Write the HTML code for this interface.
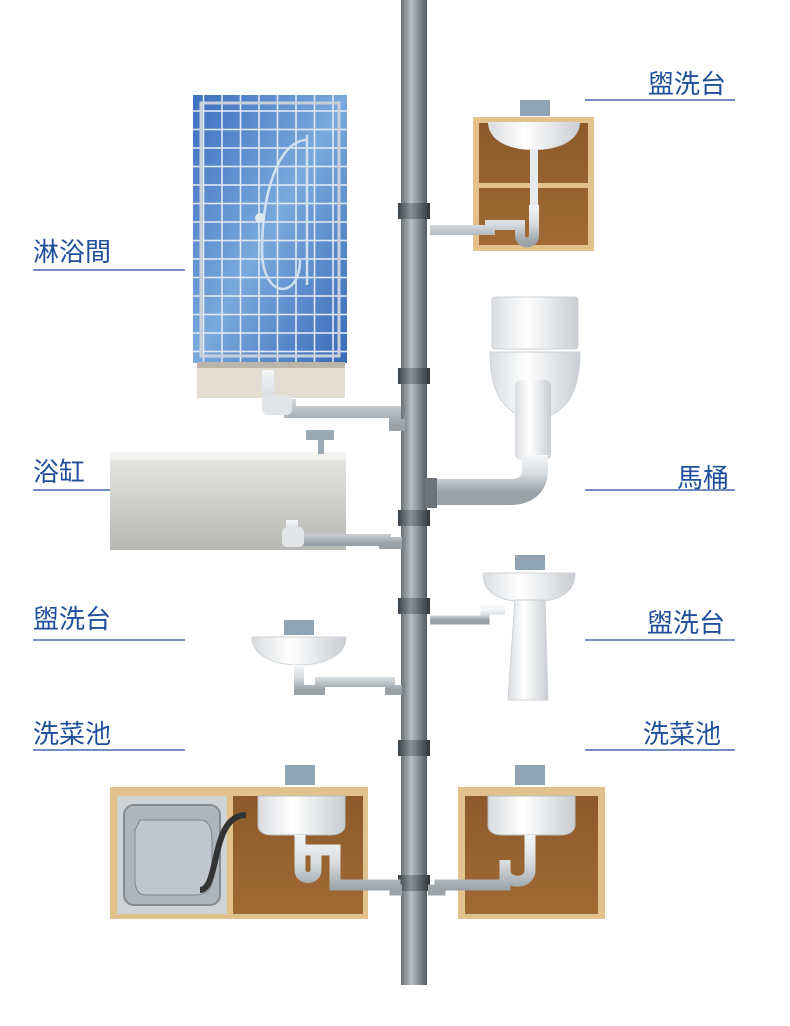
<!DOCTYPE html>
<html><head><meta charset="utf-8"><style>
html,body{margin:0;padding:0;background:#fff;}
svg{display:block}
text{font-family:"Liberation Sans","Noto Sans CJK TC",sans-serif;fill:#1f4f9a;font-size:26px;}
</style></head><body>
<svg width="790" height="1026" viewBox="0 0 790 1026" xmlns="http://www.w3.org/2000/svg">
<defs>
<linearGradient id="pipe" x1="0" x2="1"><stop offset="0" stop-color="#6a7078"/><stop offset="0.4" stop-color="#b8bec4"/><stop offset="1" stop-color="#555b62"/></linearGradient>
<linearGradient id="ring" x1="0" x2="1"><stop offset="0" stop-color="#3c4249"/><stop offset="0.4" stop-color="#8a9098"/><stop offset="1" stop-color="#2e343a"/></linearGradient>
<linearGradient id="hp" x1="0" y1="0" x2="0" y2="1"><stop offset="0" stop-color="#f4f6f7"/><stop offset="0.5" stop-color="#d8dde0"/><stop offset="1" stop-color="#9aa2a8"/></linearGradient>
<linearGradient id="tile" x1="0" y1="0" x2="1" y2="1"><stop offset="0" stop-color="#3d6fc0"/><stop offset="0.5" stop-color="#7aa9dc"/><stop offset="1" stop-color="#3a69b8"/></linearGradient>
<linearGradient id="tub" x1="0" y1="0" x2="0" y2="1"><stop offset="0" stop-color="#e8e8e6"/><stop offset="0.5" stop-color="#cfcfcc"/><stop offset="1" stop-color="#b8b8b4"/></linearGradient>
<linearGradient id="wood" x1="0" y1="0" x2="0" y2="1"><stop offset="0" stop-color="#8c5a2a"/><stop offset="1" stop-color="#a06a34"/></linearGradient>
<linearGradient id="porc" x1="0" x2="1"><stop offset="0" stop-color="#d9dcdf"/><stop offset="0.4" stop-color="#ffffff"/><stop offset="1" stop-color="#c9cdd1"/></linearGradient>
<pattern id="grid" width="18.5" height="18.5" patternUnits="userSpaceOnUse"><rect width="18.5" height="18.5" fill="none" stroke="#dfe8f5" stroke-width="1.6"/></pattern>
</defs>

<!-- central pipe -->
<rect x="401" y="0" width="26" height="985" fill="url(#pipe)"/>
<g fill="url(#ring)">
<rect x="398" y="203" width="32" height="16"/>
<rect x="398" y="368" width="32" height="16"/>
<rect x="398" y="510" width="32" height="16"/>
<rect x="398" y="598" width="32" height="16"/>
<rect x="398" y="740" width="32" height="16"/>
<rect x="398" y="875" width="32" height="16"/>
</g>

<!-- labels -->
<g stroke="#1f4f9a" stroke-width="1.2">
<line x1="33" y1="270" x2="185" y2="270"/>
<line x1="585" y1="100" x2="735" y2="100"/>
<line x1="33" y1="490" x2="185" y2="490"/>
<line x1="585" y1="490" x2="735" y2="490"/>
<line x1="33" y1="640" x2="185" y2="640"/>
<line x1="585" y1="640" x2="735" y2="640"/>
<line x1="33" y1="750" x2="185" y2="750"/>
<line x1="585" y1="750" x2="735" y2="750"/>
</g>
<text x="33" y="261">淋浴間</text>
<text x="648" y="93">盥洗台</text>
<text x="33" y="481">浴缸</text>
<text x="677" y="487">馬桶</text>
<text x="33" y="628">盥洗台</text>
<text x="647" y="632">盥洗台</text>
<text x="33" y="743">洗菜池</text>
<text x="643" y="743">洗菜池</text>

<!-- shower -->
<rect x="193" y="95" width="154" height="268" fill="url(#tile)"/>
<rect x="193" y="95" width="154" height="268" fill="url(#grid)"/>
<rect x="201" y="103" width="138" height="253" fill="none" stroke="#c8d0da" stroke-width="3"/>
<rect x="197" y="362" width="148" height="36" fill="#e4ddd2"/>
<rect x="197" y="362" width="148" height="6" fill="#bdb5a8"/>
<path d="M307 135 L307 285 M307 140 C280 140 262 190 262 250 C262 300 300 300 300 260" stroke="#cfe0ef" stroke-width="2.5" fill="none"/>
<circle cx="260" cy="218" r="5" fill="#dfe8f0"/>
<path d="M268 370 V405 H290 V412 H395 V425 H405" stroke="url(#hp)" stroke-width="12" fill="none"/>
<rect x="262" y="395" width="30" height="20" rx="6" fill="#e1e5e8"/>

<!-- top right cabinet -->
<rect x="473" y="117" width="121" height="134" fill="#e2c18c"/>
<rect x="479" y="123" width="109" height="122" fill="url(#wood)"/>
<rect x="479" y="183" width="109" height="5" fill="#e2c18c"/>
<path d="M488 122 H580 C580 140 560 150 534 150 C508 150 488 140 488 122 Z" fill="url(#porc)"/>
<rect x="520" y="100" width="30" height="16" fill="#8fa3b3"/>
<rect x="530" y="150" width="8" height="60" fill="#e8ebed"/>
<path d="M534 205 V235 C534 245 520 245 520 235 V225 H490 V230 H430" stroke="url(#hp)" stroke-width="10" fill="none"/>

<!-- toilet -->
<rect x="492" y="297" width="86" height="52" rx="3" fill="url(#porc)" stroke="#cdd2d6"/>
<path d="M490 352 H580 C580 395 565 415 535 420 C505 415 490 395 490 352 Z" fill="url(#porc)" stroke="#cdd2d6"/>
<rect x="515" y="380" width="36" height="80" rx="6" fill="url(#porc)"/>
<path d="M535 455 V470 C535 485 525 492 510 492 H430" stroke="url(#hp)" stroke-width="26" fill="none"/>
<rect x="425" y="478" width="12" height="30" fill="#6b7279"/>

<!-- bathtub -->
<rect x="110" y="452" width="236" height="98" fill="url(#tub)"/>
<rect x="110" y="452" width="236" height="8" fill="#f2f2f0"/>
<rect x="306" y="430" width="28" height="10" fill="#9aaab5"/>
<rect x="318" y="434" width="6" height="20" fill="#9aaab5"/>
<path d="M292 520 V540 H385 V543 H402" stroke="url(#hp)" stroke-width="12" fill="none"/>
<rect x="282" y="527" width="22" height="20" rx="5" fill="#e1e5e8"/>

<!-- left wash basin -->
<path d="M252 637 H346 C346 655 325 665 299 665 C273 665 252 655 252 637 Z" fill="url(#porc)" stroke="#cdd2d6"/>
<rect x="284" y="620" width="30" height="15" fill="#8fa3b3"/>
<path d="M299 665 V690 H320 V682 H390 V690 H402" stroke="url(#hp)" stroke-width="10" fill="none"/>

<!-- pedestal sink -->
<path d="M483 573 H575 C575 595 555 602 529 602 C503 602 483 595 483 573 Z" fill="url(#porc)" stroke="#cdd2d6"/>
<path d="M515 600 H545 L548 700 H508 Z" fill="url(#porc)" stroke="#cdd2d6"/>
<rect x="515" y="555" width="30" height="15" fill="#8fa3b3"/>
<path d="M505 610 H485 V620 H430" stroke="url(#hp)" stroke-width="9" fill="none"/>

<!-- left kitchen cabinet -->
<rect x="110" y="787" width="258" height="132" fill="#e2c18c"/>
<rect x="117" y="796" width="110" height="118" fill="#cfd3d6"/>
<rect x="124" y="805" width="96" height="100" rx="10" fill="#aeb5ba" stroke="#858c92" stroke-width="2"/>
<path d="M140 820 H200 C210 820 212 830 212 840 V880 C212 890 205 895 195 895 H145 C138 895 135 888 135 880 V830 Z" fill="#c0c6cb" stroke="#7e858b"/>
<rect x="233" y="796" width="130" height="118" fill="url(#wood)"/>
<path d="M258 796 H345 V825 C345 832 338 835 330 835 H272 C264 835 258 832 258 825 Z" fill="url(#porc)" stroke="#b8bec3"/>
<rect x="285" y="765" width="30" height="20" fill="#8fa3b3"/>
<path d="M246 815 C210 815 220 890 200 890" stroke="#333" stroke-width="6" fill="none"/>
<path d="M300 835 V870 C300 880 316 880 316 870 V850 H330 V845 M300 850 H335 V885 H395 V890 H402" stroke="url(#hp)" stroke-width="11" fill="none"/>

<!-- right kitchen cabinet -->
<rect x="458" y="787" width="147" height="132" fill="#e2c18c"/>
<rect x="465" y="796" width="133" height="118" fill="url(#wood)"/>
<path d="M488 796 H575 V825 C575 832 568 835 560 835 H502 C494 835 488 832 488 825 Z" fill="url(#porc)" stroke="#b8bec3"/>
<rect x="515" y="765" width="30" height="20" fill="#8fa3b3"/>
<path d="M530 835 V870 C530 885 505 885 505 870 V860 M505 870 V885 H440 V890 H428" stroke="url(#hp)" stroke-width="11" fill="none"/>
</svg>
</body></html>
